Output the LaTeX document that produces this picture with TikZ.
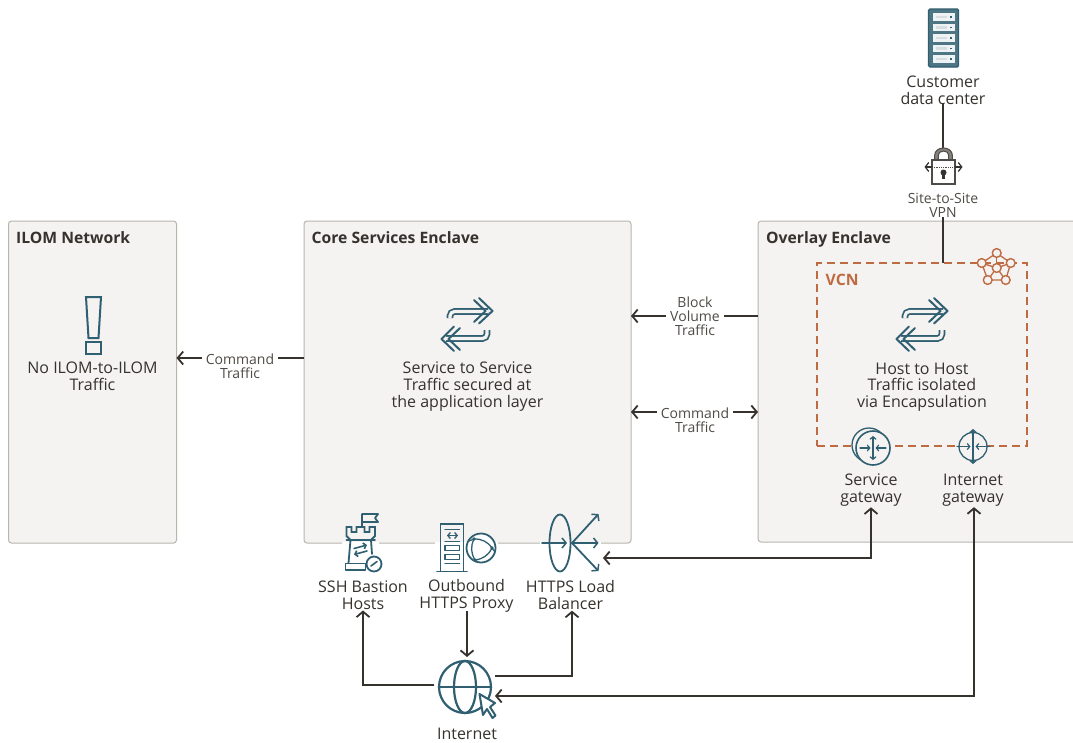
\documentclass[tikz,border=0pt]{standalone}
\usepackage{fontspec}
\setmainfont{Open Sans}
\usetikzlibrary{arrows.meta}
\definecolor{teal}{HTML}{2F5F70}
\definecolor{ink}{HTML}{36322E}
\definecolor{soft}{HTML}{4F4B47}
\definecolor{panel}{HTML}{F4F3F1}
\definecolor{edge}{HTML}{B9B5AE}
\definecolor{rust}{HTML}{BE6B42}
\tikzset{
  barb/.tip={Straight Barb[length=5.5pt,width=13pt,line width=1.8pt]},
  minibarb/.tip={Straight Barb[length=2.5pt,width=6pt]},
  lockbarb/.tip={Straight Barb[length=3.5pt,width=9pt,line width=1.2pt]},
  enclave/.style={draw=edge,line width=1pt,fill=panel,rounded corners=3pt,inner sep=0pt,outer sep=0pt,anchor=north west},
  title/.style={font=\fontsize{15.7}{17}\selectfont\bfseries,text=ink,anchor=base west,inner sep=0pt},
  body/.style={font=\fontsize{16}{16.6}\selectfont,text=ink,align=center,inner sep=0pt},
  small/.style={font=\fontsize{14}{14.2}\selectfont,text=soft,align=center,inner sep=0pt},
  smallfill/.style={small,fill=white,inner xsep=4pt,inner ysep=1pt},
  conn/.style={draw=ink,line width=2pt},
  arr/.style={conn,-barb},
  barr/.style={conn,barb-barb},
  ic/.style={draw=teal,line width=1.8pt,line cap=round,line join=round},
  iconspot/.style={inner sep=0pt,outer sep=0pt,minimum size=#1},
  gap/.style={draw=white,line width=2pt},
  swaparrows/.pic={
    \path[draw=teal,line width=1.7pt,double=panel,double distance=3.2pt,rounded corners=4.5pt]
      (-17,-7) -- (-17,-13.5) -- (21,-13.5);
    \path[draw=teal,line width=1.7pt,double=panel,double distance=3.2pt,rounded corners=4.5pt]
      (20,5) -- (20,13.5) -- (-21,13.5);
    \draw[ic,line width=2pt] (12,-27) -- (25.5,-14) -- (12,-1.5);
    \draw[ic,line width=2pt] (7,-25) -- (18.5,-14) -- (7,-3);
    \draw[ic,line width=2pt] (-13,1.5) -- (-25.5,14) -- (-13,26);
    \draw[ic,line width=2pt] (-7,3) -- (-18.5,14) -- (-7,25);
  },
  vcnmark/.pic={
    \foreach \a/\b in {0/-15,-15/-5,14/-5,-9/12,9/12}{\draw[rust,line width=1.3pt] (0,0) -- (\a,\b);}
    \draw[rust,line width=1.3pt] (0,-15) -- (-15,-5) -- (-9,12) -- (9,12) -- (14,-5) -- cycle;
    \foreach \a/\b in {0/-15,-15/-5,14/-5,-9/12,9/12,0/0}{\draw[rust,line width=1.4pt,fill=panel] (\a,\b) circle (4.4);}
  }
}
\begin{document}
\begin{tikzpicture}[x=1pt,y=-1pt]
\useasboundingbox (0,0) rectangle (1073,742);
\fill[white] (0,0) rectangle (1073,742);

% enclaves
\node[enclave,minimum width=168pt,minimum height=322pt] (ilom) at (8.5,221) {};
\node[enclave,minimum width=327pt,minimum height=322pt] (core) at (304,221) {};
\node[enclave,minimum width=330pt,minimum height=321pt] (overlay) at (758,221) {};
\node[title] (ilomT) at (16,243) {ILOM Network};
\node[title] (coreT) at (311.5,243) {Core Services Enclave};
\node[title] (overlayT) at (766,243) {Overlay Enclave};

% VCN
\node[draw=rust,line width=2pt,dash pattern=on 8pt off 5pt,inner sep=0pt,outer sep=0pt,minimum width=210pt,minimum height=183pt,anchor=north west] (vcn) at (817,263) {};
\node[title,text=rust] (vcnT) at (825.5,285.5) {VCN};

% ILOM content
\node[iconspot=18pt] (warn) at (93.5,325) {};
\draw[ic,line width=2pt,line cap=butt,line join=miter] (86,297) -- (101,297) -- (98.5,338) -- (88.5,338) -- cycle;
\draw[ic,line width=2pt,line join=miter] (86,342) rectangle (101,354);
\node[body] (ilomL) at (92.5,376.5) {No ILOM-to-ILOM\\Traffic};

% core content
\pic at (467,325) {swaparrows};
\node[body] (coreL) at (467.5,386.5) {Service to Service\\Traffic secured at\\the application layer};

% overlay content
\pic at (922,325) {swaparrows};
\node[body] (hostL) at (922,387) {Host to Host\\Traffic isolated\\via Encapsulation};

% customer data centre
\node[iconspot=31pt,minimum height=59pt] (dc) at (943.5,37.5) {};
\draw[draw=teal,line width=1.4pt,fill=teal!85!panel,rounded corners=1.5pt] (928.5,9) rectangle (958.5,67);
\foreach \y in {13,23.5,34,44.5,55}{
  \fill[white!92!teal] (932.5,\y) rectangle (954.5,\y+7.5);
  \fill[teal] (950,\y+3) rectangle (952,\y+4.5);
  \fill[teal!20] (936,\y+2.5) rectangle (947,\y+5);
}
\node[body] (dcL) at (943,90) {Customer\\data center};

% VPN
\node[inner sep=0pt,outer sep=0pt,minimum width=24pt,minimum height=36pt] (lock) at (943,166) {};
\node[small] (vpnL) at (943,205) {Site-to-Site\\VPN};
\draw[conn] (dcL.south) -- (lock.north);
\draw[draw=soft!70,line width=3.6pt] (936.5,160) -- (936.5,155) arc (180:360:7 and 5.5) -- (950.5,160);
\draw[soft,line width=1pt] (934.7,160) -- (934.7,155) arc (180:360:8.8 and 7) -- (952.3,160);
\draw[soft,line width=1pt] (938.3,160) -- (938.3,155) arc (180:360:5.2 and 4) -- (948.7,160);
\draw[soft,line width=1.3pt,fill=white] (932,160) rectangle (955,184);
\draw[soft,line width=.8pt,densely dotted] (932,167) -- (955,167);
\draw[ink,line width=1.2pt,lockbarb-] (924.5,167) -- (932,167);
\draw[ink,line width=1.2pt,lockbarb-] (962.5,167) -- (955,167);
\fill[ink] (943.5,172.5) circle (3);
\fill[ink] (942,172.5) rectangle (945,179);
\draw[conn] (vpnL.south) -- (vpnL.south |- vcn.north);
\pic at (996.7,268) {vcnmark};

% gateways
\node[iconspot=34pt,circle] (sgw) at (873,448) {};
\draw[ic,line width=1.3pt,fill=panel] (869,445) circle (17);
\draw[ic,line width=1.6pt,fill=panel] (873,448) circle (17);
\draw[ic,line width=1.2pt,minibarb-minibarb] (873,436) -- (873,460);
\draw[ic,line width=1.2pt,-minibarb] (860,448) -- (870.5,448);
\draw[ic,line width=1.2pt,-minibarb] (886,448) -- (875.5,448);
\node[body] (sgwL) at (871,490) {Service\\gateway};

\node[iconspot=28pt,circle] (igw) at (973,446.5) {};
\draw[ic,line width=1.3pt,fill=panel] (973,446.5) circle (14);
\draw[ic,line width=1.2pt,minibarb-minibarb] (973,429) -- (973,464);
\draw[ic,line width=1.2pt,-minibarb] (957,446.5) -- (970.5,446.5);
\draw[ic,line width=1.2pt,-minibarb] (990,446.5) -- (975.5,446.5);
\node[body] (igwL) at (973,490) {Internet\\gateway};

% gaps in the lower border of the core box
\draw[gap] (342,543) -- (379,543);
\draw[gap] (435,543) -- (498,543);
\draw[gap] (540,543) -- (601,543);

% bastion
\node[iconspot=36pt] (bastion) at (363,543) {};
\draw[ic] (362,526) -- (362,514) -- (378,514) -- (375,518) -- (378,522) -- (362,522);
\draw[ic,line join=miter] (350.5,540) -- (346.5,536) -- (346.5,527) -- (351.5,527) -- (351.5,532) -- (356.5,532) -- (356.5,527) -- (364.5,527) -- (364.5,532) -- (369.5,532) -- (369.5,527) -- (375,527) -- (375,536) -- (371,540);
\draw[ic] (346.5,540) -- (375,540);
\draw[ic] (350.5,540) -- (348.5,563);
\draw[ic] (371,540) -- (372,554);
\draw[ic] (345.5,563.5) rectangle (365.5,570);
\draw[ic,line width=1.6pt,-minibarb] (354,548.5) -- (367,545);
\draw[ic,line width=1.6pt,-minibarb] (367,551) -- (354,554.5);
\draw[ic,fill=white] (374,564) circle (7.5);
\draw[ic,line width=1.6pt] (371,566) -- (377,561.5);
\node[body] (bastionL) at (363,595) {SSH Bastion\\Hosts};

% proxy
\node[iconspot=58pt] (proxy) at (467,547.5) {};
\draw[ic,line join=miter] (440.5,571) -- (440.5,524) -- (463.5,524) -- (463.5,571);
\draw[ic,line join=miter] (437,571.5) -- (467,571.5);
\draw[ic,line width=1.4pt] (445,529.5) -- (459.5,529.5) (445,541.5) -- (459.5,541.5) (445,563.5) -- (459.5,563.5);
\draw[ic,line width=1.3pt,minibarb-minibarb] (447,535.5) -- (458,535.5);
\draw[ic,line width=1.4pt] (445,545.5) rectangle (459.5,550.5);
\draw[ic,line width=1.4pt] (445,554.5) rectangle (459.5,559.5);
\draw[ic,line width=1.8pt,fill=white] (481,548) circle (14.5);
\draw[ic,line width=1.3pt] (474,539) to[bend left=28] (492,548) to[bend left=28] (475,560) to[bend left=28] cycle;
\draw[ic,line width=1.2pt] (474,539) -- (469,541) (492,548) -- (495,552) (475,560) -- (478,562);
\foreach \a/\b in {474/539,492/548,475/560}{\fill[teal] (\a,\b) circle (1.9);}
\node[body] (proxyL) at (466.5,596) {Outbound\\HTTPS Proxy};

% load balancer
\node[iconspot=58pt] (lb) at (570,543) {};
\draw[ic] (560,543) ellipse (10.5 and 28.5);
\draw[ic,-{Straight Barb[length=4pt,width=10pt,line width=1.5pt]}] (542,543) -- (567,543);
\foreach \b in {514,543,571}{\draw[ic,-{Straight Barb[length=4pt,width=10pt,line width=1.5pt]}] (572,543) -- (598.5,\b);}
\node[body] (lbL) at (570.5,595) {HTTPS Load\\Balancer};

% internet
\node[circle,iconspot=52pt] (inet) at (465,687) {};
\draw[ic,line width=2.2pt] (465,687) circle (26);
\draw[ic,line width=2.2pt] (465,687) ellipse (11 and 26);
\draw[ic,line width=2.2pt] (439,687) -- (491,687);
\draw[line width=2pt,draw=teal,fill=white,line join=round] (479.5,694) -- (483,715) -- (487,709) -- (492.5,718) -- (495.5,715.5) -- (490,707) -- (495,703) -- cycle;
\node[body] (inetL) at (467,734) {Internet};

% connectors and their labels
\coordinate (cmdA) at (0,358);
\coordinate (blockA) at (0,316);
\coordinate (cmdB) at (0,412);
\draw[arr] (core.west |- cmdA) -- (ilom.east |- cmdA);
\node[smallfill] (cmd1) at (240,366) {Command\\Traffic};
\draw[arr] (overlay.west |- blockA) -- (core.east |- blockA);
\node[smallfill] (block) at (695,316) {Block\\Volume\\Traffic};
\draw[barr] (core.east |- cmdB) -- (overlay.west |- cmdB);
\node[smallfill] (cmd2) at (695,420) {Command\\Traffic};

\coordinate (inetW) at (434,685);
\coordinate (inetE) at (495,676);
\coordinate (proxyOut) at (467,611);
\coordinate (lbport) at (603,558);
\coordinate (inetport) at (495,696);
\draw[arr] (inetW) -| ([yshift=-1pt]bastionL.south);
\draw[arr] (proxyOut) -- ([yshift=4pt]proxyOut |- inet.north);
\draw[arr] (inetE) -| ([xshift=1.5pt,yshift=-1pt]lbL.south);
\draw[barr] (lbport) -| ([yshift=-1pt]sgwL.south);
\draw[barr] (inetport) -| ([xshift=1pt,yshift=-1pt]igwL.south);
\end{tikzpicture}
\end{document}
